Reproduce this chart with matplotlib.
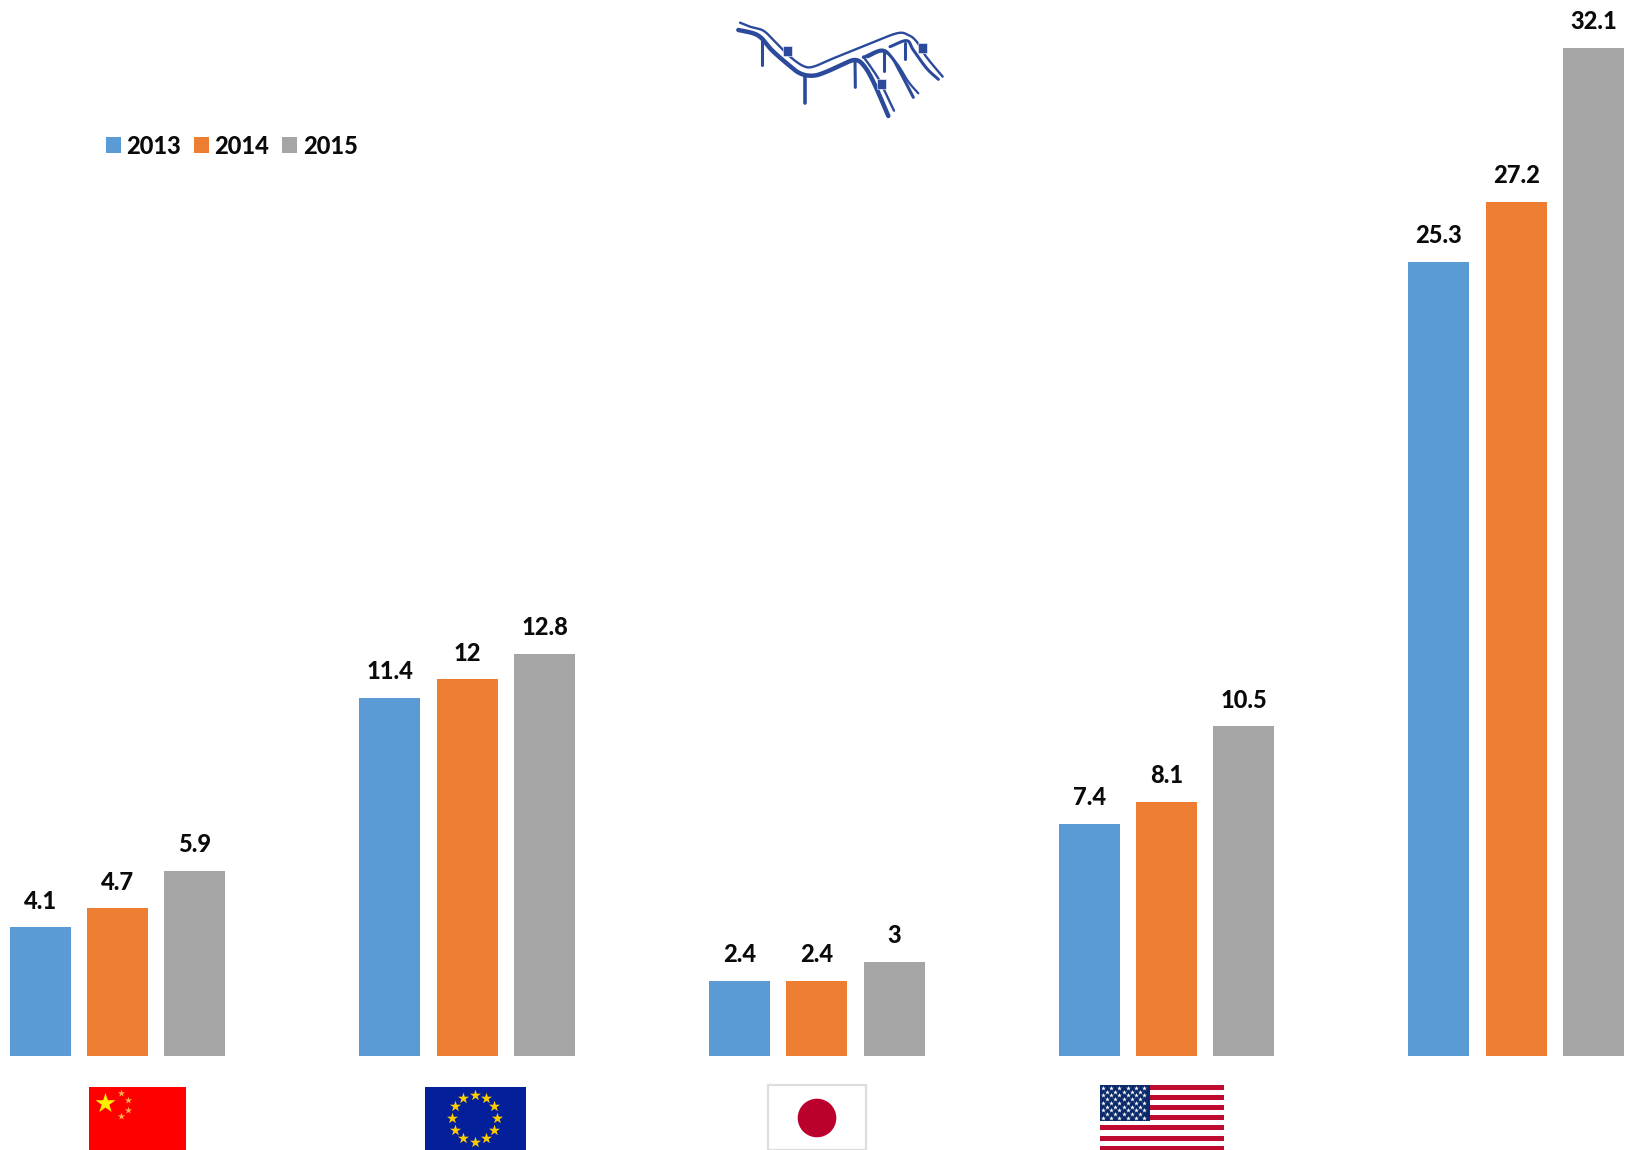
import numpy as np
import matplotlib
matplotlib.use("Agg")
import matplotlib.pyplot as plt
from matplotlib.patches import Rectangle, Circle

plt.rcParams['font.family'] = ['Lato', 'DejaVu Sans']

regions = ['China', 'EU', 'Japan', 'USA', 'Other']
years = ['2013', '2014', '2015']
v2013 = [4.1, 11.4, 2.4, 7.4, 25.3]
v2014 = [4.7, 12, 2.4, 8.1, 27.2]
v2015 = [5.9, 12.8, 3, 10.5, 32.1]
series = [v2013, v2014, v2015]
colors = ['#5B9BD5', '#ED7D31', '#A5A5A5']

W, H = 1632, 1150
fig = plt.figure(figsize=(W / 100, H / 100), dpi=100, facecolor='white')
ax = fig.add_axes([0, 0, 1, 1])
px_per_group = 349.7
px_per_unit = 31.4
x0, y0 = 117.4, 1056.0
ax.set_xlim(-x0 / px_per_group, (W - x0) / px_per_group)
ax.set_ylim(-(H - y0) / px_per_unit, y0 / px_per_unit)
ax.axis('off')

bar_w = 61.0 / px_per_group
step = 77.4 / px_per_group
pos = np.arange(len(regions))
for i, (vals, c, yr) in enumerate(zip(series, colors, years)):
    xs = pos + (i - 1) * step
    ax.bar(xs, vals, width=bar_w, color=c, label=yr)
    for x, v in zip(xs, vals):
        ax.annotate(f'{v:g}', (x, v), xytext=(0, 13.4), textcoords='offset points',
                    ha='center', va='baseline', fontsize=17, fontweight=900, color='#0A0A0A')

leg = fig.legend(loc='upper left', bbox_to_anchor=(106 / W, 1 - 134.5 / H), ncol=3, frameon=False,
                 prop={'size': 17, 'weight': 900}, handlelength=0.635, handleheight=0.635,
                 handletextpad=0.22, columnspacing=0.56, borderpad=0, borderaxespad=0)
for t in leg.get_texts():
    t.set_color('#0A0A0A')

# overlay in picture pixels for the flags and the logo
ov = fig.add_axes([0, 0, 1, 1], facecolor='none')
ov.set_xlim(0, W)
ov.set_ylim(H, 0)
ov.axis('off')

def rect(x1, y1, x2, y2, **kw):
    ov.add_patch(Rectangle((x1, y1), x2 - x1, y2 - y1, linewidth=kw.pop('linewidth', 0), **kw))

# China
rect(88.5, 1087, 186, 1150, facecolor='#FF0000')
ov.scatter([105], [1102.5], marker='*', s=230, color='#FFF000', linewidths=0, zorder=3)
ov.scatter([121, 127.5, 127.5, 121], [1093, 1099.5, 1109.5, 1116], marker='*', s=30,
           color='#FFB050', linewidths=0, zorder=3)

# EU
rect(424.5, 1087, 526, 1150, facecolor='#03209A')
ang = np.deg2rad(np.arange(12) * 30)
ov.scatter(474.5 + 22.7 * np.sin(ang), 1118 - 23.5 * np.cos(ang), marker='*', s=70,
           color='#FFCC00', linewidths=0, zorder=3)

# Japan
rect(768, 1085, 866, 1150, facecolor='white', edgecolor='#DDDDDD', linewidth=1.6)
ov.add_patch(Circle((817, 1118), 19.3, facecolor='#BC002D', edgecolor='none', zorder=3))

# USA
rect(1100, 1085, 1224, 1150, facecolor='white')
for k in range(7):
    top = 1085 + k * 10.1
    rect(1100, top, 1224, top + 5, facecolor='#BF0A30')
rect(1100, 1085, 1149.5, 1120.5, facecolor='#0A2A6B', zorder=3)
sx, sy = [], []
for r in range(9):
    n = 6 if r % 2 == 0 else 5
    for c in range(n):
        sx.append(1103 + c * 8.2 + (0 if r % 2 == 0 else 4.1))
        sy.append(1088 + r * 3.7)
ov.scatter(sx, sy, marker='*', s=13, color='white', linewidths=0, zorder=4)

# Logo: smoothed outlines
lc = '#2B4A9B'
def smooth(points, n=12):
    p = np.array(points, dtype=float)
    p = np.vstack([2 * p[0] - p[1], p, 2 * p[-1] - p[-2]])
    out = []
    for i in range(1, len(p) - 2):
        for t in np.linspace(0, 1, n, endpoint=False):
            a, b, c, d = p[i - 1], p[i], p[i + 1], p[i + 2]
            out.append(0.5 * (2 * b + (c - a) * t + (2 * a - 5 * b + 4 * c - d) * t ** 2
                              + (3 * b - a - 3 * c + d) * t ** 3))
    out.append(p[-2])
    return np.array(out)

def pl(points, lw):
    s = smooth(points)
    ov.plot(700 + s[:, 0] / 3, s[:, 1] / 3, color=lc, lw=lw, solid_capstyle='round', solid_joinstyle='round')

pl([(115, 90), (160, 100), (185, 115), (215, 150), (260, 190), (300, 220), (340, 227), (380, 215),
    (430, 192), (465, 180), (490, 195), (520, 245), (565, 348)], 3.2)
pl([(120, 68), (150, 80), (190, 92), (225, 125), (270, 170), (310, 198), (340, 200), (400, 175),
    (500, 135), (590, 100), (625, 105), (650, 125), (680, 172), (728, 230)], 1.7)
pl([(490, 170), (515, 205), (540, 245), (582, 332)], 1.7)
pl([(490, 172), (545, 150), (575, 172), (600, 215), (640, 292)], 2.2)
pl([(502, 172), (550, 155), (590, 190), (625, 245), (655, 280)], 1.6)
pl([(570, 140), (620, 122), (640, 150), (680, 205), (715, 238)], 2.2)
pl([(465, 180), (466, 262)], 2.2)
pl([(185, 115), (185, 195)], 2.2)
pl([(315, 225), (315, 308)], 2.6)
pl([(552, 160), (552, 212)], 2.2)
pl([(616, 130), (616, 178)], 2.2)
for cx, cy in [(262, 153), (545, 253), (667, 145)]:
    ov.add_patch(Rectangle((700 + cx / 3 - 4.5, cy / 3 - 5), 9, 10, facecolor=lc, edgecolor='white',
                           linewidth=0.4, zorder=5))

fig.savefig('out.png', dpi=100)
